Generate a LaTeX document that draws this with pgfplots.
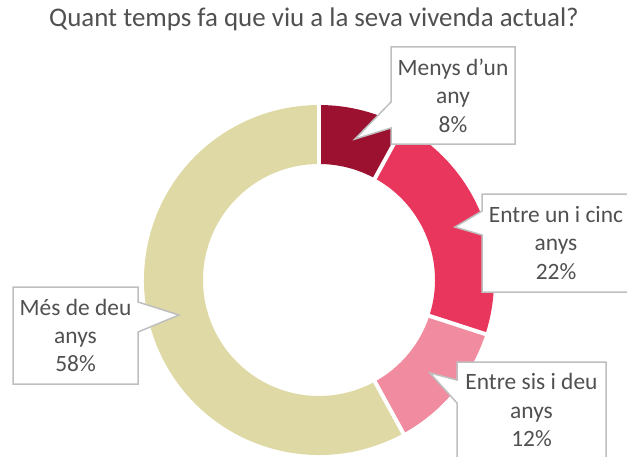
\documentclass[border=0pt]{standalone}
\usepackage{fontspec}
\setmainfont{Carlito}
\usepackage{pgfplots}
\pgfplotsset{compat=1.18}
\usetikzlibrary{calc}
\definecolor{c1}{HTML}{9C1030}
\definecolor{c2}{HTML}{E8365C}
\definecolor{c3}{HTML}{F08BA0}
\definecolor{c4}{HTML}{DFDAA5}
\definecolor{tgray}{HTML}{505050}
\definecolor{bgray}{HTML}{BFBFBF}

% donut slice: start (%), share (%), colour
\newcommand\slice[3]{%
  \fill[#3] ($(C)+({90-3.6*(#1)}:175bp)$)
    arc[start angle={90-3.6*(#1)}, end angle={90-3.6*(#1+#2)}, radius=175bp]
    -- ($(C)+({90-3.6*(#1+#2)}:116bp)$)
    arc[start angle={90-3.6*(#1+#2)}, end angle={90-3.6*(#1)}, radius=116bp]
    -- cycle;}
\newcommand\gap[1]{%
  \draw[white, line width=4bp] ($(C)+({90-3.6*(#1)}:110bp)$) -- ($(C)+({90-3.6*(#1)}:180bp)$);}

\begin{document}
\begin{tikzpicture}
\path[use as bounding box] (0,0) rectangle (627bp,457bp);
\begin{axis}[
  width=627bp, height=457bp, scale only axis,
  xmin=0, xmax=627, ymin=0, ymax=457, y dir=reverse,
  hide axis, clip=false,
]
\coordinate (C) at (axis cs:319,280);
\slice{0}{8}{c1}
\slice{8}{22}{c2}
\slice{30}{12}{c3}
\slice{42}{58}{c4}
\gap{0}\gap{8}\gap{30}\gap{42}

\node[text=tgray, font=\fontsize{27}{30}\selectfont] at (axis cs:314,19)
  {Quant temps fa que viu a la seva vivenda actual?};

\begin{scope}[every node/.style={align=center, text=tgray,
    font=\fontsize{23.5}{28.5}\selectfont}]
\filldraw[fill=white, draw=bgray, line width=1.5bp]
  (axis cs:391,47) -- (axis cs:515,47) -- (axis cs:515,144) -- (axis cs:391,144)
  -- (axis cs:391,128) -- (axis cs:355,139) -- (axis cs:391,102) -- cycle;
\node at (axis cs:453,95.5) {Menys d’un\\any\\8\%};

\filldraw[fill=white, draw=bgray, line width=1.5bp]
  (axis cs:482,194) -- (axis cs:632,194) -- (axis cs:632,292) -- (axis cs:482,292)
  -- (axis cs:482,235) -- (axis cs:455,227) -- (axis cs:482,211) -- cycle;
\node at (axis cs:556,243) {Entre un i cinc\\anys\\22\%};

\filldraw[fill=white, draw=bgray, line width=1.5bp]
  (axis cs:13,287) -- (axis cs:138,287) -- (axis cs:138,302) -- (axis cs:179,315)
  -- (axis cs:138,332) -- (axis cs:138,384) -- (axis cs:13,384) -- cycle;
\node at (axis cs:75.5,335.5) {Més de deu\\anys\\58\%};

\filldraw[fill=white, draw=bgray, line width=1.5bp]
  (axis cs:457,362) -- (axis cs:606,362) -- (axis cs:606,470) -- (axis cs:457,470)
  -- (axis cs:457,403) -- (axis cs:430,373) -- (axis cs:457,380) -- cycle;
\node at (axis cs:531.5,410) {Entre sis i deu\\anys\\12\%};
\end{scope}
\end{axis}
\end{tikzpicture}
\end{document}
